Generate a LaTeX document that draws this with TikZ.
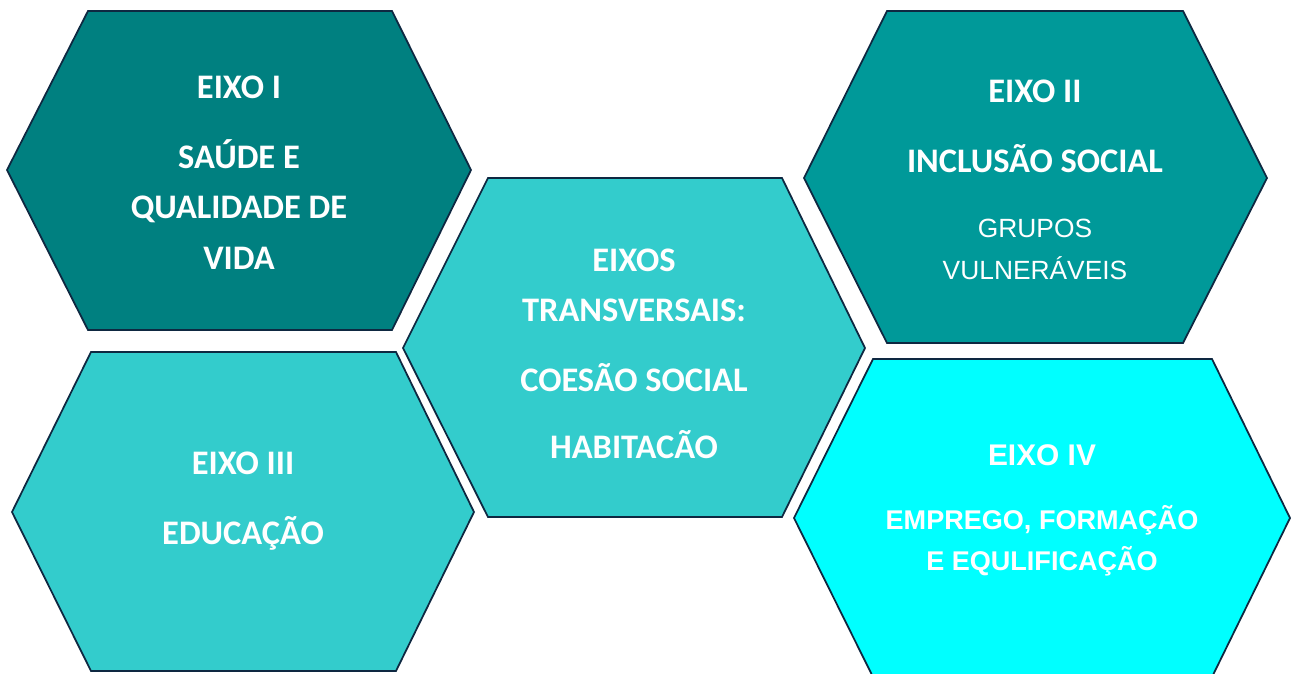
\documentclass[tikz,border=0pt]{standalone}
\usepackage{fontspec}
\setmainfont{Carlito}
\newfontfamily\arialfont{Liberation Sans}
\definecolor{eixoI}{HTML}{008080}
\definecolor{eixoII}{HTML}{009999}
\definecolor{eixoIII}{HTML}{33CCCC}
\definecolor{eixoIV}{HTML}{00FFFF}
\definecolor{borda}{HTML}{0E2841}

\begin{document}
\begin{tikzpicture}[%
    x=0.02cm, y=-0.02cm,
    hexcell/.style={draw=borda, line width=1pt},
    eixotext/.style={text=white, align=center, anchor=base, inner sep=0pt,
      font=\bfseries\fontsize{19.6}{28.5}\selectfont}
  ]
  \useasboundingbox (0,0) rectangle (1291,673);
  \clip (0,0) rectangle (1291,673);

  % hexagons
  \path[hexcell, fill=eixoI] (88,11) -- (392,11) -- (471,170) -- (392,330) -- (88,330) -- (7,170) -- cycle;
  \path[hexcell, fill=eixoII] (887,11) -- (1183,11) -- (1267,178) -- (1183,343) -- (887,343) -- (804,178) -- cycle;
  \path[hexcell, fill=eixoIII] (91,352) -- (396,352) -- (474,512) -- (396,671) -- (91,671) -- (12,512) -- cycle;
  \path[hexcell, fill=eixoIII] (488,178) -- (782,178) -- (865,348) -- (782,517) -- (488,517) -- (403,348) -- cycle;
  \path[hexcell, fill=eixoIV] (873,359) -- (1212,359) -- (1290,518) -- (1212,677) -- (873,677) -- (794,518) -- cycle;

  % texts (base = last line)
  \node[eixotext] (saude) at (239,269)
    {EIXO I\\[11.3pt] SAÚDE E\\ QUALIDADE DE\\ VIDA};
  \node[eixotext] (inclusao) at (1035,279)
    {EIXO II\\[11.2pt] INCLUSÃO SOCIAL\\[8.1pt]
     {\arialfont\mdseries\fontsize{15}{24}\selectfont GRUPOS}\\[-4.6pt]
     {\arialfont\mdseries\fontsize{15}{24}\selectfont VULNERÁVEIS}};
  \node[eixotext] (educacao) at (243,544)
    {EIXO III\\[10.8pt] EDUCAÇÃO};
  \node[eixotext] (transversais) at (634,458)
    {EIXOS\\ TRANSVERSAIS:\\[11.3pt] COESÃO SOCIAL\\[9.6pt] HABITACÃO};
  \node[eixotext, font=\arialfont\bfseries\fontsize{15.4}{23.3}\selectfont] (emprego) at (1042,570)
    {{\fontsize{17}{23.3}\selectfont EIXO IV}\\[13.1pt] EMPREGO, FORMAÇÃO\\ E EQULIFICAÇÃO};
\end{tikzpicture}
\end{document}
